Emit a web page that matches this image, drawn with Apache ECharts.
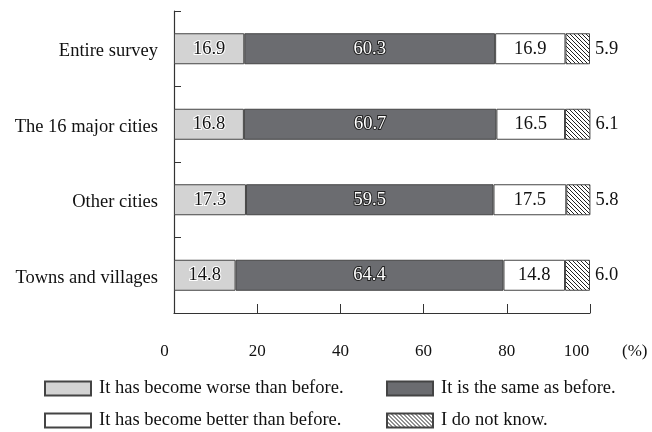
<!DOCTYPE html>
<html><head><meta charset="utf-8">
<script src="https://cdn.jsdelivr.net/npm/echarts@6/dist/echarts.min.js"></script>
<style>html,body{margin:0;padding:0;background:#fff}#c{width:652px;height:432px}</style>
</head><body><div id="c"></div>
<script>
const categories = ['Entire survey', 'The 16 major cities', 'Other cities', 'Towns and villages'];
const seriesNames = ['It has become worse than before.', 'It is the same as before.', 'It has become better than before.', 'I do not know.'];
const worse = [16.9, 16.8, 17.3, 14.8];
const same = [60.3, 60.7, 59.5, 64.4];
const better = [16.9, 16.5, 17.5, 14.8];
const dontKnow = [5.9, 6.1, 5.8, 6.0];
const xTicks = [0, 20, 40, 60, 80, 100];

function hatch() {
  const c = document.createElement('canvas');
  c.width = 4; c.height = 4;
  const g = c.getContext('2d');
  g.fillStyle = '#fff'; g.fillRect(0, 0, 4, 4);
  g.strokeStyle = '#222'; g.lineWidth = 1;
  g.beginPath();
  g.moveTo(0, 0); g.lineTo(4, 4);
  g.moveTo(-1, 3); g.lineTo(1, 5);
  g.moveTo(3, -1); g.lineTo(5, 1);
  g.stroke();
  return c;
}
const FONT = '"Liberation Serif", "Times New Roman", serif';
const fills = ['#d3d3d3', '#6b6c70', '#ffffff', { image: hatch(), repeat: 'repeat' }];
const labelStyles = [
  { show: true, position: 'inside', color: '#111', textBorderColor: '#fff', textBorderWidth: 2 },
  { show: true, position: 'inside', color: '#fff', textBorderColor: '#222', textBorderWidth: 2 },
  { show: true, position: 'inside', color: '#111' },
  { show: true, position: 'right', distance: 5, color: '#111' }
];
const values = [worse, same, better, dontKnow];

const chart = echarts.init(document.getElementById('c'), null, { renderer: 'canvas' });
const legends = seriesNames.map((n, i) => ({
  data: [n],
  left: i % 2 === 0 ? 44 : 386,
  top: i < 2 ? 379 : 411,
  padding: 0,
  itemWidth: 46, itemHeight: 14,
  icon: 'rect',
  selectedMode: false,
  textStyle: { fontFamily: FONT, fontSize: 18.5, color: '#111', padding: [0, 0, 0, 3] }
}));
chart.setOption({
  animation: false,
  textStyle: { fontFamily: FONT },
  grid: { left: 174, right: 62, top: 11, bottom: 119, containLabel: false },
  legend: legends,
  xAxis: {
    type: 'value', min: 0, max: 100, interval: 20,
    axisLine: { show: true, lineStyle: { color: '#333', width: 1.2 } },
    axisTick: { show: true, inside: true, length: 9, lineStyle: { color: '#333' } },
    splitLine: { show: false },
    axisLabel: { margin: 30, fontFamily: FONT, fontSize: 17, color: '#111',
      formatter: v => v === 0 ? '{l|0}' : v === 100 ? '{r|100}' : (xTicks.includes(v) ? String(v) : ''),
      rich: {
        l: { fontFamily: FONT, fontSize: 17, color: '#111', padding: [0, 19, 0, 0] },
        r: { fontFamily: FONT, fontSize: 17, color: '#111', padding: [0, 27, 0, 0] }
      } }
  },
  yAxis: {
    type: 'category', inverse: true, data: categories,
    axisLine: { show: true, lineStyle: { color: '#333', width: 1.2 } },
    axisTick: { show: true, inside: true, length: 7, lineStyle: { color: '#333' } },
    axisLabel: { margin: 16, color: '#111',
      formatter: v => '{c|' + v + '}',
      rich: { c: { fontFamily: FONT, fontSize: 18.5, color: '#111', padding: [5, 0, 0, 0] } } }
  },
  graphic: [{ type: 'text', left: 622, top: 343, style: { text: '(%)', font: '17px ' + FONT, fill: '#111' } }],
  series: seriesNames.map((n, i) => ({
    name: n, type: 'bar', stack: 'total', barWidth: 31,
    data: values[i],
    itemStyle: { color: fills[i], borderColor: '#444', borderWidth: 1 },
    label: Object.assign({ fontFamily: FONT, fontSize: 18.5, formatter: p => p.value.toFixed(1) }, labelStyles[i])
  }))
});
</script></body></html>
